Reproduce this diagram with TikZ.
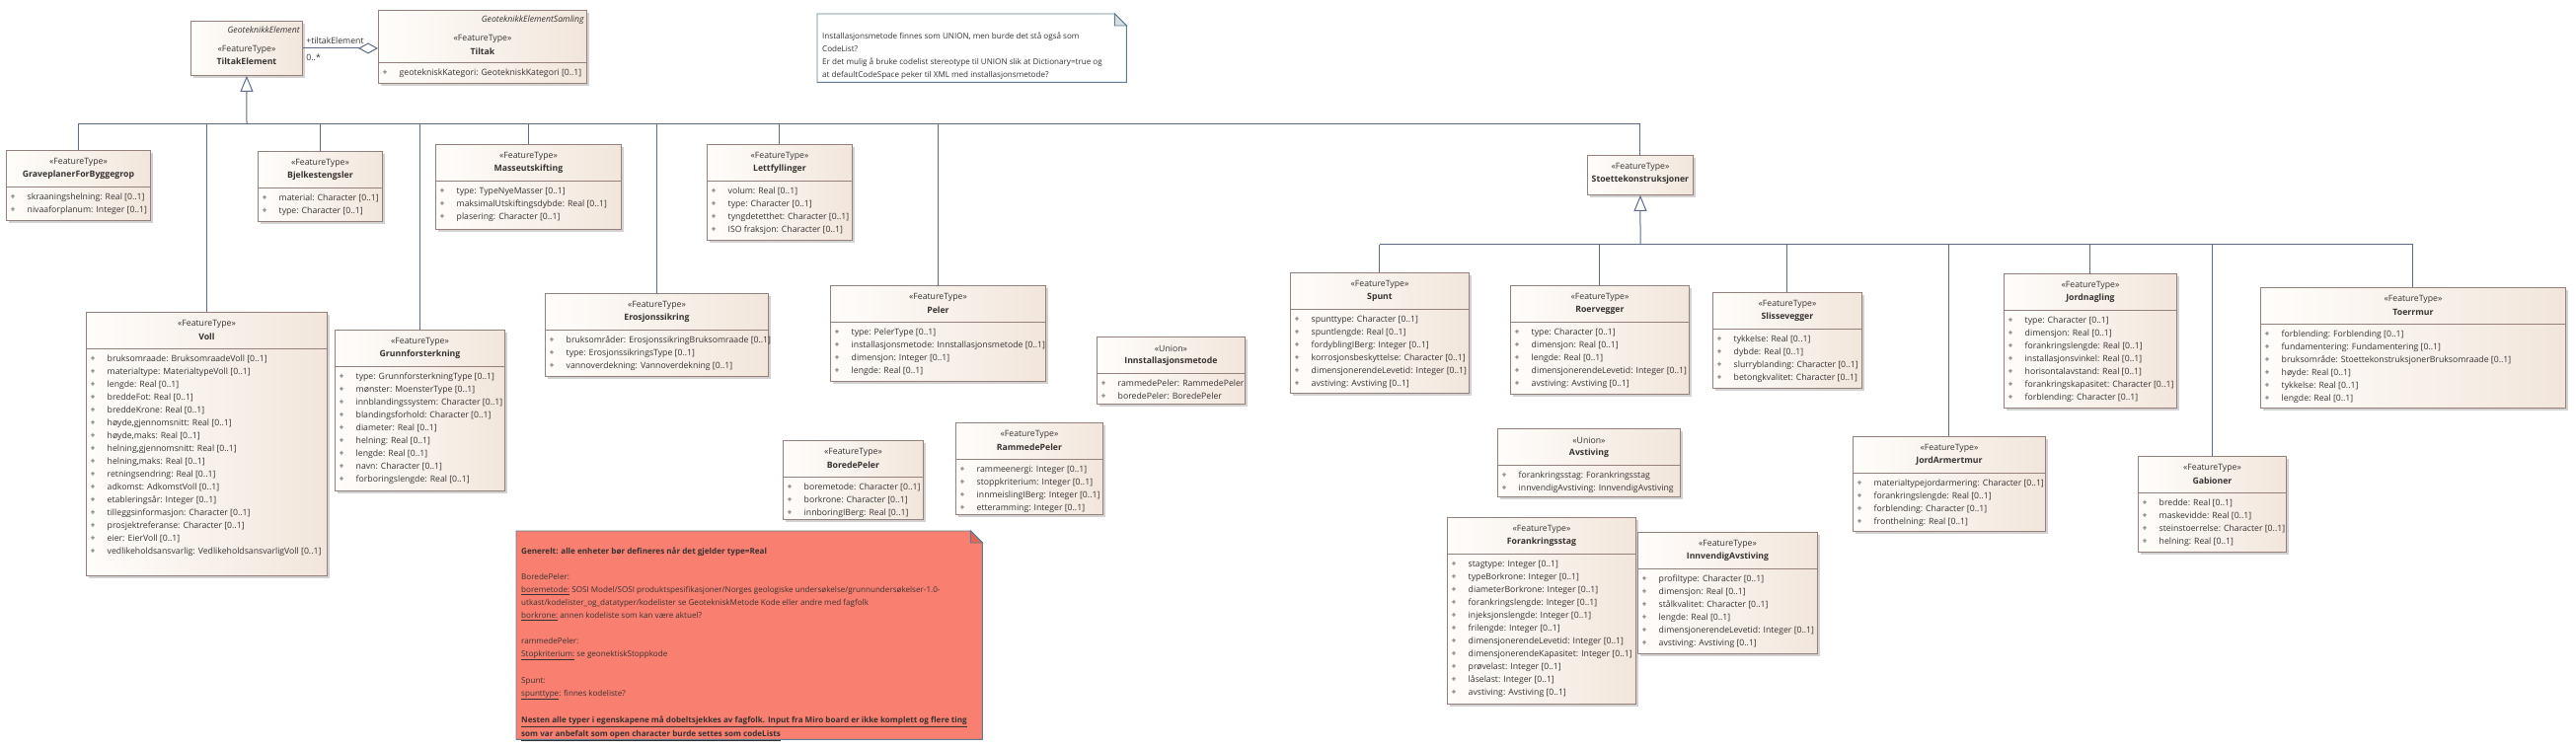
\documentclass[tikz,border=0pt]{standalone}
\usepackage{fontspec}
\setmainfont{Open Sans}
\usetikzlibrary{arrows.meta,shadows,positioning}

\definecolor{boxedge}{RGB}{150,128,124}
\definecolor{boxleft}{RGB}{255,253,251}
\definecolor{boxright}{RGB}{242,230,219}
\definecolor{shadowgrey}{RGB}{210,210,210}
\definecolor{connline}{RGB}{92,106,135}
\definecolor{txt}{RGB}{55,50,50}
\definecolor{noteedge}{RGB}{95,125,145}
\definecolor{notefold}{RGB}{214,220,224}
\definecolor{rednote}{RGB}{249,128,112}
\definecolor{redfold}{RGB}{222,104,90}

\tikzset{
  classbox/.style={draw=boxedge, line width=0.9pt, left color=boxleft, right color=boxright,
    anchor=north west, inner sep=0pt,
    drop shadow={shadow xshift=3pt, shadow yshift=-3pt, fill=shadowgrey, opacity=1}},
  stereo/.style={font=\fontsize{8.7}{13}\selectfont, text=txt, inner sep=0pt},
  ctitle/.style={font=\fontsize{8.7}{13}\selectfont\bfseries, text=txt, inner sep=0pt},
  attrs/.style={font=\fontsize{8.7}{13}\selectfont, text=txt, inner sep=0pt, anchor=north west, align=left},
  notetext/.style={attrs, font=\fontsize{8.1}{13}\selectfont},
  notebox/.style={anchor=north west, inner sep=0pt, minimum width=#1},
  conn/.style={draw=connline, line width=1pt},
  gen/.style={-{Triangle[open, length=16pt, width=13pt]}},
}

% one class: name, x, y, width, height, stereotype, title, attributes
\newcommand\umlclass[8]{%
  \node[classbox, minimum width=#4pt, minimum height=#5pt] (#1) at (#2,#3) {};
  \draw[draw=boxedge, line width=0.9pt] ([yshift=-37pt]#1.north west) -- ([yshift=-37pt]#1.north east);
  \node[stereo] (#1-st) at ([yshift=-12.5pt]#1.north) {«#6»};
  \node[ctitle] (#1-ti) at ([yshift=-25.5pt]#1.north) {#7};
  \node[attrs] (#1-at) at ([xshift=4.5pt,yshift=-41.5pt]#1.north west) {#8};
}
\newcommand\attrline[1]{\makebox[17pt][l]{+}#1\strut}

\begin{document}
\begin{tikzpicture}[x=1pt, y=-1pt]
\useasboundingbox (0,0) rectangle (2610,759);

% top: TiltakElement and Tiltak
\node[classbox, minimum width=113pt, minimum height=55pt] (tiltakel) at (193,21) {};
\node[stereo, anchor=east, font=\fontsize{8.7}{13}\selectfont\itshape] at ([xshift=-3pt,yshift=-9pt]tiltakel.north east) {GeoteknikkElement};
\node[stereo] at ([yshift=-29pt]tiltakel.north) {«FeatureType»};
\node[ctitle] at ([yshift=-41pt]tiltakel.north) {TiltakElement};

\node[classbox, minimum width=211pt, minimum height=74pt] (tiltak) at (383,10) {};
\node[stereo, anchor=east, font=\fontsize{8.7}{13}\selectfont\itshape] at ([xshift=-3pt,yshift=-10pt]tiltak.north east) {GeoteknikkElementSamling};
\node[stereo] at ([yshift=-29pt]tiltak.north) {«FeatureType»};
\node[ctitle] at ([yshift=-42pt]tiltak.north) {Tiltak};
\draw[draw=boxedge, line width=0.9pt] ([yshift=-53pt]tiltak.north west) -- ([yshift=-53pt]tiltak.north east);
\node[attrs] at ([xshift=4.5pt,yshift=-57.5pt]tiltak.north west) {\attrline{geotekniskKategori: GeotekniskKategori [0..1]}};

\draw[conn, -{Diamond[open, length=20pt, width=11pt]}] (tiltakel.east) -- (tiltak.west |- tiltakel.east)
  node[stereo, pos=0, anchor=south west, xshift=3pt, yshift=4pt] {+tiltakElement}
  node[stereo, pos=0, anchor=north west, xshift=3pt, yshift=-5pt] {0..*};

% note about Innstallasjonsmetode
\node[notebox=313pt, minimum height=69pt] (qnote) at (828,14) {};
\draw[draw=noteedge, line width=0.9pt, fill=white] (qnote.north west) -- ([xshift=-12pt]qnote.north east)
  -- ([yshift=-12pt]qnote.north east) -- (qnote.south east) -- (qnote.south west) -- cycle;
\draw[draw=noteedge, line width=0.9pt, fill=notefold] ([xshift=-12pt]qnote.north east)
  -- ([yshift=-12pt]qnote.north east) -- ([xshift=-12pt,yshift=-12pt]qnote.north east) -- cycle;
\node[notetext] (qtext) at (833,30) {Installasjonsmetode finnes som UNION, men burde det stå også som\strut\\
  CodeList?\strut\\
  Er det mulig å bruke codelist stereotype til UNION slik at Dictionary=true og\strut\\
  at defaultCodeSpace peker til XML med installasjonsmetode?\strut};

% first row
\umlclass{grave}{6}{152}{146}{71}{FeatureType}{GraveplanerForByggegrop}{%
  \attrline{skraaningshelning: Real [0..1]}\\\attrline{nivaaforplanum: Integer [0..1]}}
\umlclass{bjelke}{261}{153}{126}{71}{FeatureType}{Bjelkestengsler}{%
  \attrline{material: Character [0..1]}\\\attrline{type: Character [0..1]}}
\umlclass{masse}{441}{146}{188}{86}{FeatureType}{Masseutskifting}{%
  \attrline{type: TypeNyeMasser [0..1]}\\\attrline{maksimalUtskiftingsdybde: Real [0..1]}\\
  \attrline{plasering: Character [0..1]}}
\umlclass{lettf}{716}{146}{147}{97}{FeatureType}{Lettfyllinger}{%
  \attrline{volum: Real [0..1]}\\\attrline{type: Character [0..1]}\\
  \attrline{tyngdetetthet: Character [0..1]}\\\attrline{ISO fraksjon: Character [0..1]}}
\umlclass{voll}{87}{316}{244}{267}{FeatureType}{Voll}{%
  \attrline{bruksomraade: BruksomraadeVoll [0..1]}\\\attrline{materialtype: MaterialtypeVoll [0..1]}\\
  \attrline{lengde: Real [0..1]}\\\attrline{breddeFot: Real [0..1]}\\
  \attrline{breddeKrone: Real [0..1]}\\\attrline{høyde,gjennomsnitt: Real [0..1]}\\
  \attrline{høyde,maks: Real [0..1]}\\\attrline{helning,gjennomsnitt: Real [0..1]}\\
  \attrline{helning,maks: Real [0..1]}\\\attrline{retningsendring: Real [0..1]}\\
  \attrline{adkomst: AdkomstVoll [0..1]}\\\attrline{etableringsår: Integer [0..1]}\\
  \attrline{tilleggsinformasjon: Character [0..1]}\\\attrline{prosjektreferanse: Character [0..1]}\\
  \attrline{eier: EierVoll [0..1]}\\\attrline{vedlikeholdsansvarlig: VedlikeholdsansvarligVoll [0..1]}}
\umlclass{grunnf}{339}{334}{172}{163}{FeatureType}{Grunnforsterkning}{%
  \attrline{type: GrunnforsterkningType [0..1]}\\\attrline{mønster: MoensterType [0..1]}\\
  \attrline{innblandingssystem: Character [0..1]}\\\attrline{blandingsforhold: Character [0..1]}\\
  \attrline{diameter: Real [0..1]}\\\attrline{helning: Real [0..1]}\\
  \attrline{lengde: Real [0..1]}\\\attrline{navn: Character [0..1]}\\
  \attrline{forboringslengde: Real [0..1]}}
\umlclass{eros}{552}{297}{226}{84}{FeatureType}{Erosjonssikring}{%
  \attrline{bruksområder: ErosjonssikringBruksomraade [0..1]}\\\attrline{type: ErosjonssikringsType [0..1]}\\
  \attrline{vannoverdekning: Vannoverdekning [0..1]}}
\umlclass{peler}{841}{289}{218}{97}{FeatureType}{Peler}{%
  \attrline{type: PelerType [0..1]}\\\attrline{installasjonsmetode: Innstallasjonsmetode [0..1]}\\
  \attrline{dimensjon: Integer [0..1]}\\\attrline{lengde: Real [0..1]}}
\umlclass{instm}{1111}{341}{150}{68}{Union}{Innstallasjonsmetode}{%
  \attrline{rammedePeler: RammedePeler}\\\attrline{boredePeler: BoredePeler}}
\umlclass{boredep}{793}{446}{142}{80}{FeatureType}{BoredePeler}{%
  \attrline{boremetode: Character [0..1]}\\\attrline{borkrone: Character [0..1]}\\
  \attrline{innboringIBerg: Real [0..1]}}
\umlclass{rammedep}{968}{428}{149}{93}{FeatureType}{RammedePeler}{%
  \attrline{rammeenergi: Integer [0..1]}\\\attrline{stoppkriterium: Integer [0..1]}\\
  \attrline{innmeislingIBerg: Integer [0..1]}\\\attrline{etteramming: Integer [0..1]}}

% Stoettekonstruksjoner and its children
\node[classbox, minimum width=107pt, minimum height=40pt] (stoette) at (1608,157) {};
\node[stereo] at ([yshift=-12.5pt]stoette.north) {«FeatureType»};
\node[ctitle] at ([yshift=-25.5pt]stoette.north) {Stoettekonstruksjoner};

\umlclass{spunt}{1307}{276}{181}{122}{FeatureType}{Spunt}{%
  \attrline{spunttype: Character [0..1]}\\\attrline{spuntlengde: Real [0..1]}\\
  \attrline{fordyblingIBerg: Integer [0..1]}\\\attrline{korrosjonsbeskyttelse: Character [0..1]}\\
  \attrline{dimensjonerendeLevetid: Integer [0..1]}\\\attrline{avstiving: Avstiving [0..1]}}
\umlclass{roer}{1530}{289}{181}{110}{FeatureType}{Roervegger}{%
  \attrline{type: Character [0..1]}\\\attrline{dimensjon: Real [0..1]}\\
  \attrline{lengde: Real [0..1]}\\\attrline{dimensjonerendeLevetid: Integer [0..1]}\\
  \attrline{avstiving: Avstiving [0..1]}}
\umlclass{slisse}{1735}{296}{151}{97}{FeatureType}{Slissevegger}{%
  \attrline{tykkelse: Real [0..1]}\\\attrline{dybde: Real [0..1]}\\
  \attrline{slurryblanding: Character [0..1]}\\\attrline{betongkvalitet: Character [0..1]}}
\umlclass{jordnag}{2030}{277}{175}{136}{FeatureType}{Jordnagling}{%
  \attrline{type: Character [0..1]}\\\attrline{dimensjon: Real [0..1]}\\
  \attrline{forankringslengde: Real [0..1]}\\\attrline{installasjonsvinkel: Real [0..1]}\\
  \attrline{horisontalavstand: Real [0..1]}\\\attrline{forankringskapasitet: Character [0..1]}\\
  \attrline{forblending: Character [0..1]}}
\umlclass{toerr}{2290}{291}{309}{122}{FeatureType}{Toerrmur}{%
  \attrline{forblending: Forblending [0..1]}\\\attrline{fundamentering: Fundamentering [0..1]}\\
  \attrline{bruksområde: StoettekonstruksjonerBruksomraade [0..1]}\\\attrline{høyde: Real [0..1]}\\
  \attrline{tykkelse: Real [0..1]}\\\attrline{lengde: Real [0..1]}}
\umlclass{jordarm}{1877}{442}{195}{96}{FeatureType}{JordArmertmur}{%
  \attrline{materialtypejordarmering: Character [0..1]}\\\attrline{forankringslengde: Real [0..1]}\\
  \attrline{forblending: Character [0..1]}\\\attrline{fronthelning: Real [0..1]}}
\umlclass{gabion}{2166}{462}{150}{97}{FeatureType}{Gabioner}{%
  \attrline{bredde: Real [0..1]}\\\attrline{maskevidde: Real [0..1]}\\
  \attrline{steinstoerrelse: Character [0..1]}\\\attrline{helning: Real [0..1]}}
\umlclass{avstiv}{1517}{434}{185}{69}{Union}{Avstiving}{%
  \attrline{forankringsstag: Forankringsstag}\\\attrline{innvendigAvstiving: InnvendigAvstiving}}
\umlclass{forank}{1466}{524}{191}{189}{FeatureType}{Forankringsstag}{%
  \attrline{stagtype: Integer [0..1]}\\\attrline{typeBorkrone: Integer [0..1]}\\
  \attrline{diameterBorkrone: Integer [0..1]}\\\attrline{forankringslengde: Integer [0..1]}\\
  \attrline{injeksjonslengde: Integer [0..1]}\\\attrline{frilengde: Integer [0..1]}\\
  \attrline{dimensjonerendeLevetid: Integer [0..1]}\\\attrline{dimensjonerendeKapasitet: Integer [0..1]}\\
  \attrline{prøvelast: Integer [0..1]}\\\attrline{låselast: Integer [0..1]}\\
  \attrline{avstiving: Avstiving [0..1]}}
\umlclass{innvend}{1659}{539}{182}{123}{FeatureType}{InnvendigAvstiving}{%
  \attrline{profiltype: Character [0..1]}\\\attrline{dimensjon: Real [0..1]}\\
  \attrline{stålkvalitet: Character [0..1]}\\\attrline{lengde: Real [0..1]}\\
  \attrline{dimensjonerendeLevetid: Integer [0..1]}\\\attrline{avstiving: Avstiving [0..1]}}

% red note
\node[notebox=472pt, minimum height=211pt] (rnote) at (523,538) {};
\draw[draw=noteedge, line width=0.9pt, fill=rednote] (rnote.north west) -- ([xshift=-12pt]rnote.north east)
  -- ([yshift=-12pt]rnote.north east) -- (rnote.south east) -- (rnote.south west) -- cycle;
\draw[draw=noteedge, line width=0.9pt, fill=redfold] ([xshift=-12pt]rnote.north east)
  -- ([yshift=-12pt]rnote.north east) -- ([xshift=-12pt,yshift=-12pt]rnote.north east) -- cycle;
\node[notetext] (rtext) at (528,552) {\textbf{Generelt: alle enheter bør defineres når det gjelder type=Real}\strut\\
  \strut\\
  BoredePeler:\strut\\
  \underline{boremetode:} SOSI Model/SOSI produktspesifikasjoner/Norges geologiske undersøkelse/grunnundersøkelser-1.0-\strut\\
  utkast/kodelister\_og\_datatyper/kodelister se GeotekniskMetode Kode eller andre med fagfolk\strut\\
  \underline{borkrone:} annen kodeliste som kan være aktuel?\strut\\
  \strut\\
  rammedePeler:\strut\\
  \underline{Stopkriterium:} se geonektiskStoppkode\strut\\
  \strut\\
  Spunt:\strut\\
  \underline{spunttype}: finnes kodeliste?\strut\\
  \strut\\
  \textbf{\underline{Nesten alle typer i egenskapene må dobeltsjekkes av fagfolk. Input fra Miro board er ikke komplett og flere ting}}\strut\\
  \textbf{\underline{som var anbefalt som open character burde settes som codeLists}}\strut};

% generalisations
\coordinate (busA) at (250,126);
\coordinate (busB) at (1662,248);
\draw[conn] (grave.north |- busA) -- (stoette.north |- busA);
\foreach \c in {grave,voll,bjelke,grunnf,masse,eros,lettf,peler,stoette}
  \draw[conn] (\c.north) -- (\c.north |- busA);
\draw[conn, gen] (busA) -- (tiltakel.south);
\draw[conn] (spunt.north |- busB) -- (toerr.north |- busB);
\foreach \c in {spunt,roer,slisse,jordarm,jordnag,gabion,toerr}
  \draw[conn] (\c.north) -- (\c.north |- busB);
\draw[conn, gen] (busB) -- (stoette.south);
\end{tikzpicture}
\end{document}
